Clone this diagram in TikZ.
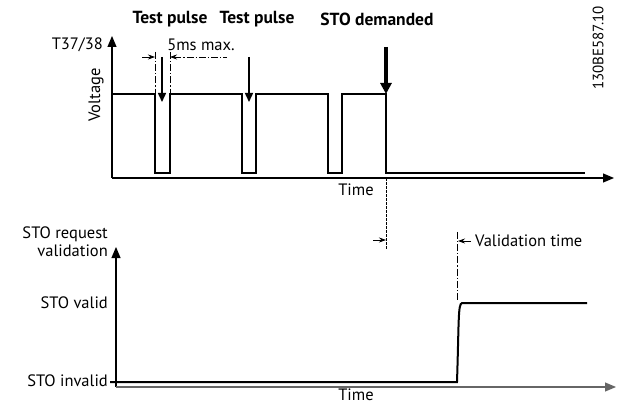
\documentclass[tikz,border=0pt]{standalone}
\usepackage{fontspec}
\setmainfont{PT Sans}
\usetikzlibrary{arrows.meta}

\begin{document}
\begin{tikzpicture}[x=1pt, y=-1pt, every node/.style={font=\fontsize{16.5}{18}\selectfont, inner sep=1pt},
	axis/.style={-{Triangle[length=11pt,width=9pt]}, line width=1.1pt},
	signal/.style={line width=2pt},
	dimline/.style={line width=0.7pt, dash pattern=on 7pt off 2pt on 1.2pt off 2pt},
	dimarrow/.style={-{Stealth[length=7pt,width=5pt]}, line width=0.8pt},
	marker/.style={-{Triangle[length=9pt,width=8pt]}, line width=1.5pt},
	title/.style={font=\bfseries\fontsize{17.5}{19}\selectfont}]
	\useasboundingbox (0,0) rectangle (621,406);
	% upper diagram: voltage on T37/38
	\coordinate (O1) at (112,178);
	\draw[axis] (O1) -- (112,36) coordinate (Y1);
	\draw[axis] (O1) -- (614,178) coordinate (X1);
	\node[anchor=east] (t37) at (104,45) {T37/38};
	\node[rotate=90] (volt) at (96,95) {Voltage};
	\node (time1) at (356,190) {Time};
	\draw[signal] (112,94) -| (155,173) -| (170,94) -| (242,173) -| (256,94) -| (328,173) -| (342,94) -| (386,173) -- (585,173);
	% pulses and demand
	\node[title] (tp1) at (170,19) {Test pulse};
	\node[title] (tp2) at (257,19) {Test pulse};
	\node[title] (sto) at (377,19) {STO demanded};
	\coordinate (a1) at (162,57); \coordinate (b1) at (162,102);
	\coordinate (a2) at (249,57); \coordinate (b2) at (249,102);
	\coordinate (a3) at (386,47); \coordinate (b3) at (386,94);
	\draw[marker] (a1) -- (b1);
	\draw[marker] (a2) -- (b2);
	\draw[-{Triangle[length=11pt,width=11pt]}, line width=3.2pt] (a3) -- (b3);
	% 5ms dimension
	\draw[dimline] (155,52) -- (155,93);
	\draw[dimline] (170,52) -- (170,93);
	\draw[dimarrow] (142,57) -- (155,57);
	\draw[dimline, {Stealth[length=7pt,width=5pt]}-] (170,57) -- (227,57);
	\node (max) at (201,45) {5ms max.};
	% lower diagram: STO request validation
	\draw[line width=0.7pt, dash pattern=on 3pt off 1pt] (386,178) -- (386,250);
	\draw[dimarrow] (373,240) -- (386,240);
	\draw[dimline] (457,232) -- (457,300);
	\draw[dimarrow] (471,241) -- (458,241);
	\node[anchor=west] (valt) at (474,241) {Validation time};
	\coordinate (O2) at (116,387);
	\draw[axis] (O2) -- (116,247) coordinate (Y2);
	\draw[axis, black!60] (O2) -- (616,387) coordinate (X2);
	\node[anchor=east, align=right] (req) at (109,242) {STO request\\validation};
	\node[anchor=east] (valid) at (109,303) {STO valid};
	\node[anchor=east] (invalid) at (109,381) {STO invalid};
	\node[anchor=base, inner sep=0pt] (time2) at (356,400) {Time};
	\draw[signal] (110,382) -- (457,382) .. controls (459,320) and (458,304) .. (462,303) -- (587,303);
	\node[rotate=90, anchor=center, font=\fontsize{15}{16}\selectfont] (code) at (598,48) {130BE587.10};
\end{tikzpicture}
\end{document}
